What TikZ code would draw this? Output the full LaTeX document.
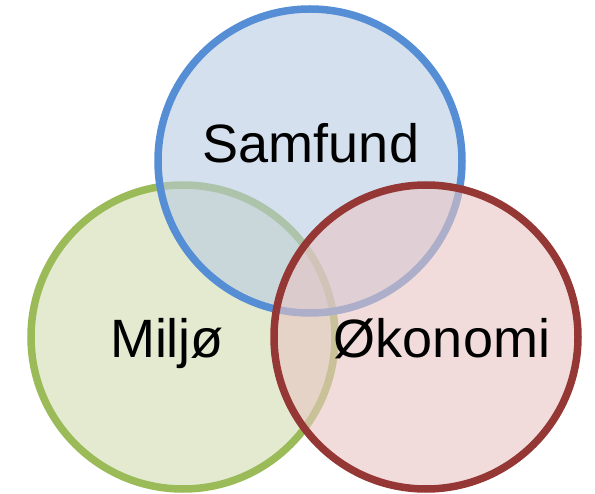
\documentclass[tikz,border=0pt]{standalone}
\usepackage{fontspec}
\setmainfont{Liberation Sans}
\definecolor{bluefill}{RGB}{185,203,227}
\definecolor{bluedraw}{RGB}{85,142,213}
\definecolor{greenfill}{RGB}{208,220,177}
\definecolor{greendraw}{RGB}{155,187,89}
\definecolor{redfill}{RGB}{232,197,195}
\definecolor{reddraw}{RGB}{149,55,53}
\tikzset{
  venn/.style={circle, minimum size=304pt, inner sep=0pt, line width=7.5pt, fill opacity=0.6},
  lbl/.style={font=\fontsize{54}{62}\selectfont, anchor=base, inner sep=0pt}
}
\begin{document}
\begin{tikzpicture}[x=1pt,y=-1pt]
\useasboundingbox (0,0) rectangle (595,494);
\node[venn, fill=greenfill, draw=greendraw] (miljo) at (183,337) {};
\node[venn, fill=bluefill, draw=bluedraw] (samfund) at (310,161) {};
\node[venn, fill=redfill, draw=reddraw] (okonomi) at (426,337) {};
\node[lbl] (tS) at (311,163) {Samfund};
\node[lbl] (tM) at (167,358) {Miljø};
\node[lbl] (tO) at (442,358) {Økonomi};
\end{tikzpicture}
\end{document}
